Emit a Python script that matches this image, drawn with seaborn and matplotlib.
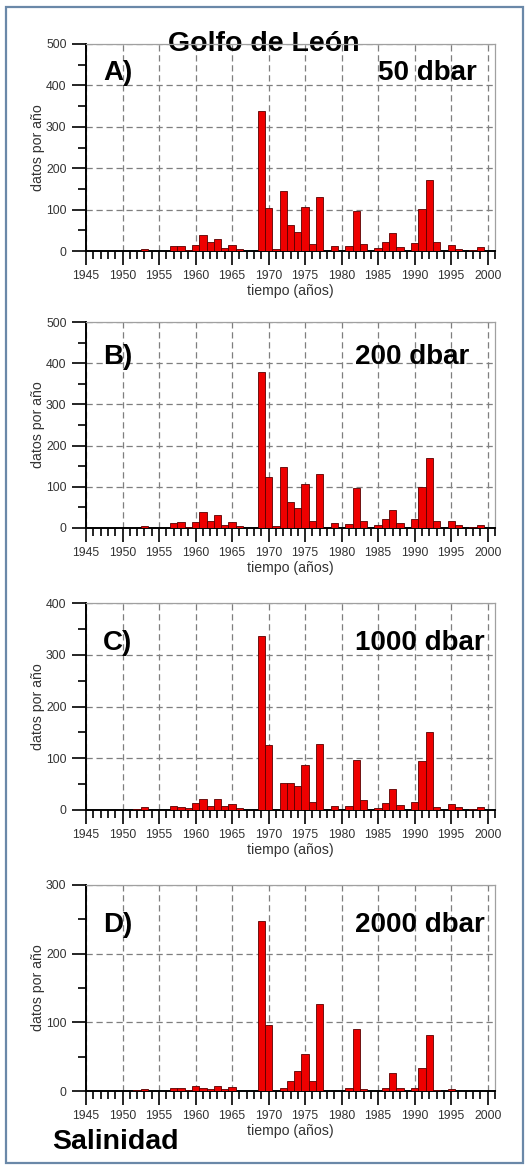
import numpy as np
import pandas as pd
import matplotlib
matplotlib.use("Agg")
import matplotlib.pyplot as plt
from matplotlib.ticker import MultipleLocator
from matplotlib.patches import Rectangle
import seaborn as sns

years = list(range(1945, 2001))

datos_50 = [0, 0, 0, 0, 0, 0, 0, 0, 5, 0, 0, 0,
            11, 13, 2, 14, 38, 21, 30, 8, 15, 5, 0, 0,
            337, 105, 4, 146, 62, 46, 107, 17, 130, 0,
            12, 0, 11, 97, 17, 0, 7, 22, 43, 9,
            0, 19, 101, 171, 21, 0, 15, 6, 0, 2, 9, 0]
datos_200 = [0, 0, 0, 0, 0, 0, 0, 0, 5, 0, 0, 0,
             12, 14, 2, 14, 39, 18, 31, 8, 15, 5, 0, 0,
             379, 125, 4, 147, 62, 48, 108, 18, 130, 0,
             13, 0, 10, 96, 18, 0, 7, 23, 43, 11,
             0, 22, 100, 171, 16, 0, 16, 7, 0, 2, 8, 0]
datos_1000 = [0, 0, 0, 0, 0, 0, 0, 1, 5, 0, 0, 0,
              8, 6, 3, 13, 21, 7, 21, 7, 11, 4, 0, 0,
              336, 125, 0, 53, 52, 47, 87, 15, 127, 0,
              8, 0, 7, 97, 19, 0, 3, 14, 41, 10,
              0, 15, 94, 151, 5, 0, 12, 6, 0, 2, 6, 0]
datos_2000 = [0, 0, 0, 0, 0, 0, 0, 1, 3, 0, 0, 0,
              4, 4, 2, 8, 5, 3, 8, 3, 6, 0, 0, 0,
              248, 96, 0, 4, 15, 29, 54, 14, 126, 0,
              0, 0, 4, 90, 3, 0, 0, 5, 26, 5,
              0, 5, 33, 82, 2, 0, 3, 0, 0, 0, 0, 0]

panel_letters = ["A)", "B)", "C)", "D)"]
panel_depths = ["50 dbar", "200 dbar", "1000 dbar", "2000 dbar"]
panel_ymax = [500, 500, 400, 300]
series = [datos_50, datos_200, datos_1000, datos_2000]

sns.set_style("ticks")
plt.rcParams["font.family"] = ["Liberation Sans", "DejaVu Sans"]

W, H = 531, 1169
fig = plt.figure(figsize=(W / 100, H / 100), dpi=100)
fig.patch.set_facecolor("white")

# outer frame
fig.patches.append(Rectangle((6 / W, 6 / H), (523 - 6) / W, (1162 - 6) / H,
                             transform=fig.transFigure, fill=False,
                             edgecolor="#6a88a8", linewidth=1.6))

left = 86 / W
width = (495 - 86) / W
tops = [44, 322, 603, 885]
bottoms = [251, 528, 810, 1091]
letter_y = [0.86, 0.83, 0.807, 0.806]
depth_x = [0.714, 0.658, 0.658, 0.658]

tick_col = "#333333"
for i in range(4):
    b = 1 - bottoms[i] / H
    h = (bottoms[i] - tops[i]) / H
    ax = fig.add_axes([left, b, width, h])
    df = pd.DataFrame({"year": years, "n": series[i]})
    sns.barplot(data=df, x="year", y="n", native_scale=True, width=1.0,
                color="#ee0000", saturation=1, edgecolor="#5a0000",
                linewidth=0.6, ax=ax, zorder=3)
    ax.set_xlim(1945, 2001)
    ax.set_ylim(0, panel_ymax[i])
    ax.xaxis.set_major_locator(MultipleLocator(5))
    ax.xaxis.set_minor_locator(MultipleLocator(1))
    ax.yaxis.set_major_locator(MultipleLocator(100))
    ax.yaxis.set_minor_locator(MultipleLocator(50))
    ax.set_xticks(list(range(1945, 2001, 5)))
    ax.set_xticklabels([str(y) for y in range(1945, 2001, 5)])
    ax.tick_params(axis="both", which="major", direction="out", length=10,
                   width=1.2, color="black", labelsize=8.8, labelcolor=tick_col)
    ax.tick_params(axis="both", which="minor", direction="out", length=5.5,
                   width=1.2, color="black")
    ax.tick_params(axis="x", which="major", pad=4)
    ax.tick_params(axis="y", which="major", pad=4)
    ax.grid(True, which="major", axis="both", linestyle=(0, (5, 3)),
            color="#7f7f7f", linewidth=0.9, zorder=1)
    ax.set_axisbelow(True)
    for s in ["top", "right"]:
        ax.spines[s].set_color("#a0a0a0")
        ax.spines[s].set_linewidth(0.9)
    for s in ["left", "bottom"]:
        ax.spines[s].set_color("black")
        ax.spines[s].set_linewidth(1.4)
    ax.set_xlabel("tiempo (años)", fontsize=10.2, color=tick_col, labelpad=1)
    ax.set_ylabel("datos por año", fontsize=10.2, color=tick_col, labelpad=0.5)
    ax.text(0.042, letter_y[i], panel_letters[i], transform=ax.transAxes,
            fontsize=20, fontweight="bold", ha="left", va="center", zorder=5,
            color="black")
    ax.text(depth_x[i], letter_y[i], panel_depths[i], transform=ax.transAxes,
            fontsize=20, fontweight="bold", ha="left", va="center", zorder=5,
            color="black")
    if i == 0:
        ax.text(0.435, 1.0, "Golfo de León", transform=ax.transAxes,
                fontsize=20.5, fontweight="bold", ha="center", va="center",
                zorder=1, clip_on=False, color="black")

fig.text(52 / W, 1 - 1142 / H, "Salinidad", fontsize=20.5, fontweight="bold",
         ha="left", va="center", color="black")

fig.savefig("out.png", dpi=100, facecolor="white")
